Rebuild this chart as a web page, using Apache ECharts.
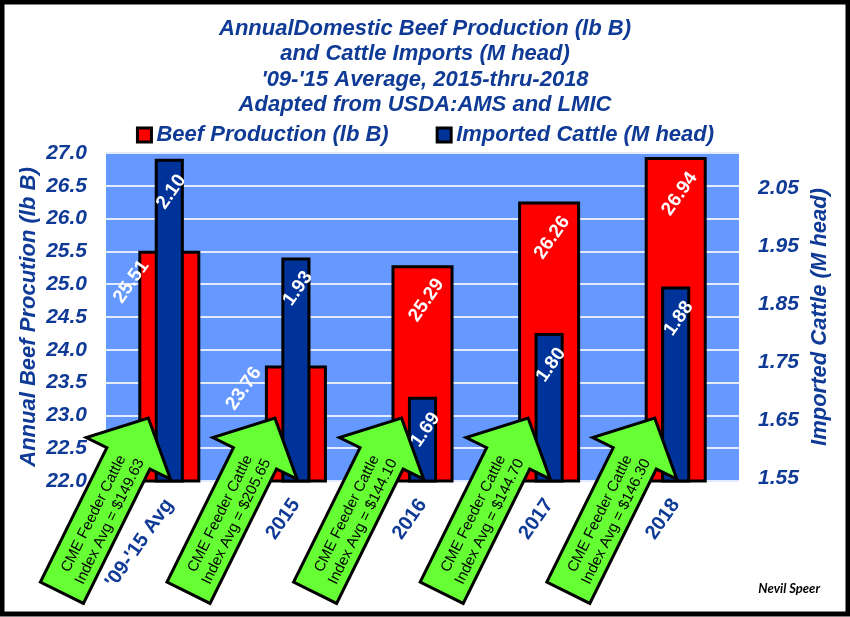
<!DOCTYPE html>
<html>
<head>
<meta charset="utf-8">
<script src="https://cdn.jsdelivr.net/npm/echarts@6/dist/echarts.min.js"></script>
<style>
html, body { margin: 0; padding: 0; background: #fff; }
#main { width: 850px; height: 617px; }
</style>
</head>
<body>
<div id="main"></div>
<script>
// values
var categories = ["'09-'15 Avg", '2015', '2016', '2017', '2018'];
var beefProduction = [25.51, 23.76, 25.29, 26.26, 26.94];   // lb B, left axis
var importedCattle = [2.10, 1.93, 1.69, 1.80, 1.88];        // M head, right axis
var feederIndex = [149.63, 205.65, 144.10, 144.70, 146.30]; // CME feeder cattle index avg
var rightTickLabels = ['1.55', '1.65', '1.75', '1.85', '1.95', '2.05'];

// label placement on screen (dx, dy from top centre of bar)
var beefLabelOffset = [[-38, 31], [-52, 23], [4, 35], [3, 36], [4, 37]];
var cattleLabelOffset = [[2, 33], [2, 31], [3, 33], [2, 32], [3, 32]];

var navy = '#0f3a96';
var font = 'Liberation Sans';
var labelRotate = 55;

// offset is applied in the rotated frame of the label, so turn it back
function toLocal(d) {
    var r = labelRotate * Math.PI / 180, c = Math.cos(r), s = Math.sin(r);
    return [d[0] * c - d[1] * s, d[0] * s + d[1] * c];
}

function withLabels(values, offsets) {
    return values.map(function (v, i) {
        return { value: v, label: { offset: toLocal(offsets[i]) } };
    });
}

var option = {
    backgroundColor: '#fff',
    animation: false,
    title: {
        text: "AnnualDomestic Beef Production (lb B)\nand Cattle Imports (M head)\n'09-'15 Average, 2015-thru-2018\nAdapted from USDA:AMS and LMIC",
        left: 'center',
        top: 16,
        padding: 0,
        textStyle: {
            color: navy, fontFamily: font, fontSize: 22, fontWeight: 'bold',
            fontStyle: 'italic', lineHeight: 25.5
        }
    },
    legend: {
        top: 119,
        left: 'center',
        itemWidth: 14,
        itemHeight: 14,
        itemGap: 47,
        icon: 'rect',
        itemStyle: { borderColor: '#000', borderWidth: 3 },
        textStyle: {
            color: navy, fontFamily: font, fontSize: 22, fontWeight: 'bold', fontStyle: 'italic'
        },
        data: ['Beef Production (lb B)', 'Imported Cattle (M head)']
    },
    grid: {
        left: 106, right: 111, top: 153, bottom: 136,
        show: true, backgroundColor: '#6699ff', borderWidth: 0
    },
    xAxis: [{
        type: 'category',
        data: categories,
        axisLine: { show: false },
        axisTick: { show: false },
        axisLabel: {
            rotate: labelRotate, margin: 20, interval: 0,
            color: navy, fontFamily: font, fontSize: 20, fontWeight: 'bold'
        }
    }, {
        type: 'category',
        data: categories,
        show: false
    }],
    yAxis: [{
        type: 'value',
        min: 22, max: 27, interval: 0.5,
        name: 'Annual Beef Procution (lb B)',
        nameLocation: 'middle', nameRotate: 90, nameGap: 66,
        nameMoveOverlap: false,
        nameTextStyle: {
            color: navy, fontFamily: font, fontSize: 22, fontWeight: 'bold', fontStyle: 'italic'
        },
        axisLine: { show: false },
        axisTick: { show: false },
        axisLabel: {
            margin: 19, color: navy, fontFamily: font, fontSize: 21,
            fontWeight: 'bold', fontStyle: 'italic',
            formatter: function (v) { return v.toFixed(1); }
        },
        splitLine: { lineStyle: { color: '#e3ebff', width: 2 } }
    }, {
        type: 'value',
        position: 'right',
        min: 1.545, max: 2.11, interval: 0.005,
        name: 'Imported Cattle (M head)',
        nameLocation: 'middle', nameRotate: 90, nameGap: 70,
        nameMoveOverlap: false,
        nameTextStyle: {
            color: navy, fontFamily: font, fontSize: 22, fontWeight: 'bold', fontStyle: 'italic'
        },
        axisLine: { show: false },
        axisTick: { show: false },
        splitLine: { show: false },
        axisLabel: {
            margin: 19, color: navy, fontFamily: font, fontSize: 21,
            fontWeight: 'bold', fontStyle: 'italic',
            formatter: function (v) {
                var onGrid = Math.abs(v * 100 - Math.round(v * 100)) < 1e-6;
                var s = v.toFixed(2);
                return onGrid && rightTickLabels.indexOf(s) >= 0 ? s : '';
            }
        }
    }],
    series: [{
        name: 'Beef Production (lb B)',
        type: 'bar',
        xAxisIndex: 0,
        yAxisIndex: 0,
        barWidth: '49%',
        data: withLabels(beefProduction, beefLabelOffset),
        itemStyle: { color: '#ff0000', borderColor: '#000', borderWidth: 3 },
        label: {
            show: true, position: 'insideTop', distance: 0, rotate: labelRotate,
            align: 'center', verticalAlign: 'middle',
            color: '#fff', fontFamily: font, fontSize: 19, fontWeight: 'bold',
            formatter: function (p) { return p.value.toFixed(2); }
        }
    }, {
        name: 'Imported Cattle (M head)',
        type: 'bar',
        xAxisIndex: 1,
        yAxisIndex: 1,
        barWidth: '23%',
        data: withLabels(importedCattle, cattleLabelOffset),
        itemStyle: { color: '#003399', borderColor: '#000', borderWidth: 3 },
        label: {
            show: true, position: 'insideTop', distance: 0, rotate: labelRotate,
            align: 'center', verticalAlign: 'middle',
            color: '#fff', fontFamily: font, fontSize: 19, fontWeight: 'bold',
            formatter: function (p) { return p.value.toFixed(2); }
        }
    }]
};

var chart = echarts.init(document.getElementById('main'), null, { renderer: 'canvas' });
chart.setOption(option);

// green call-out arrows under each category
var angle = 63.7 * Math.PI / 180;
var baseY = chart.convertToPixel({ yAxisIndex: 0 }, 22);
var graphics = [];
categories.forEach(function (c, i) {
    var cx = chart.convertToPixel({ xAxisIndex: 0 }, c);
    graphics.push({
        type: 'group',
        x: cx - 21,
        y: baseY - 63,
        rotation: angle,
        children: [{
            type: 'polygon',
            z: 100,
            shape: { points: [[0, 0], [-45, 47], [-45, 24], [-195, 24], [-195, -24], [-45, -24], [-45, -47]] },
            style: { fill: '#66ff33', stroke: '#000', lineWidth: 3, lineJoin: 'miter' }
        }, {
            type: 'text',
            z: 101,
            x: -110,
            y: 2.5,
            style: {
                text: 'CME Feeder Cattle\nIndex Avg = $' + feederIndex[i].toFixed(2),
                fill: '#000', fontFamily: font, fontSize: 15, lineHeight: 18,
                align: 'center', verticalAlign: 'middle'
            }
        }]
    });
});
graphics.push({
    type: 'text', right: 30, top: 582, z: 100,
    style: { text: 'Nevil Speer', fill: '#000', font: 'italic bold 13px Lato' }
});
graphics.push({
    type: 'rect', z: 200, silent: true,
    shape: { x: 2, y: 2, width: 846, height: 612 },
    style: { fill: 'none', stroke: '#000', lineWidth: 5 }
});
chart.setOption({ graphic: graphics });
</script>
</body>
</html>
